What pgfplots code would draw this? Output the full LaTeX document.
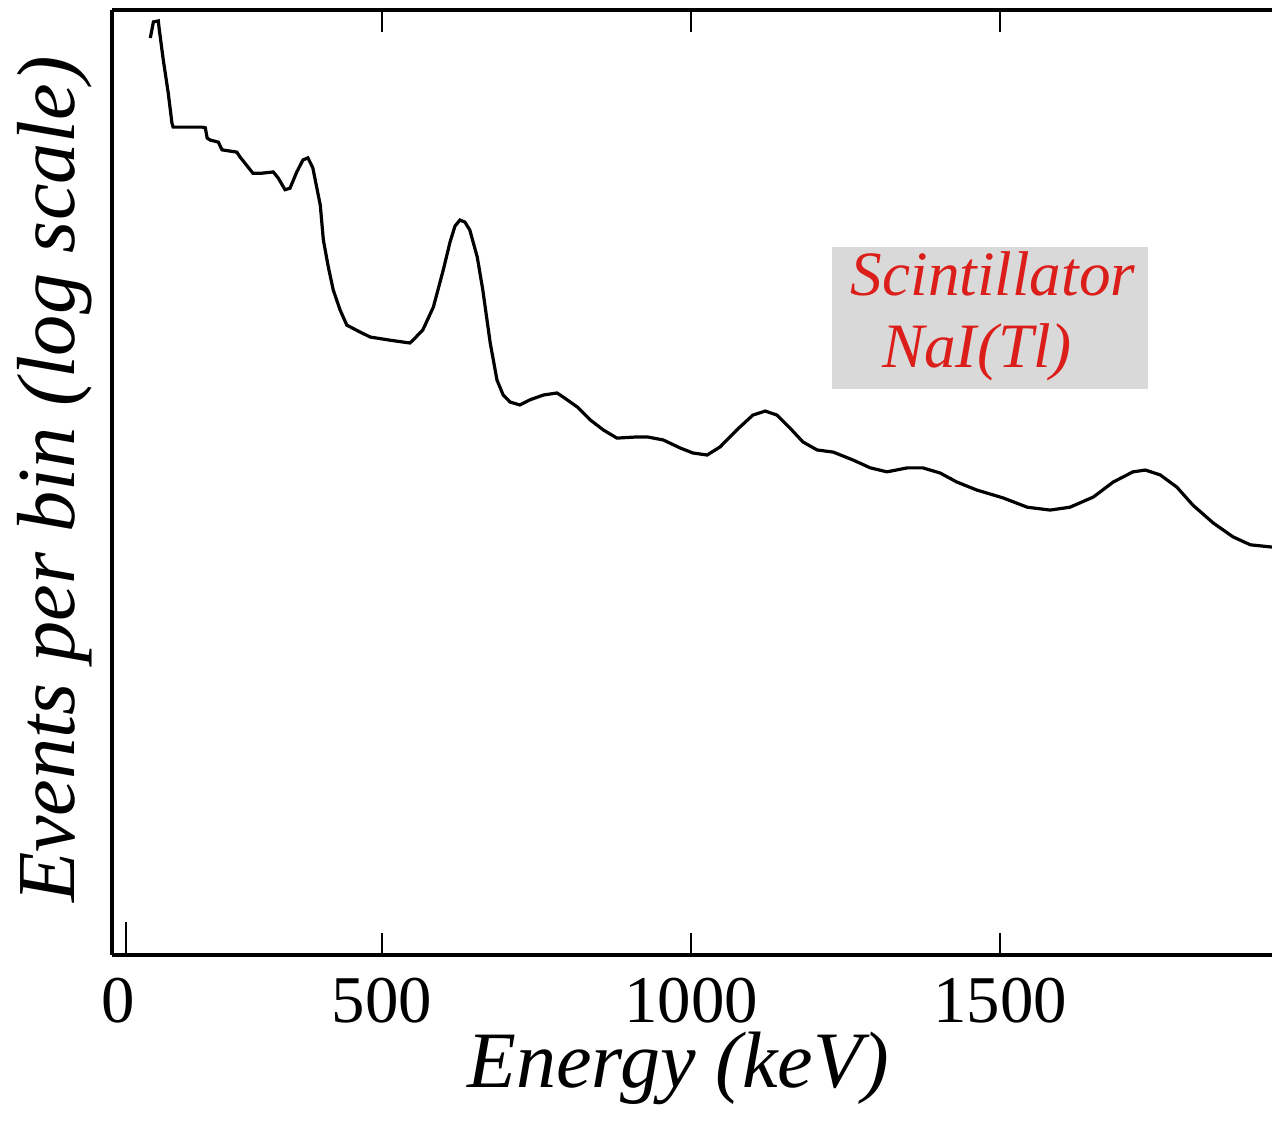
\documentclass[border=0pt]{standalone}
\usepackage{pgfplots}
\pgfplotsset{compat=1.18}
\usepackage{fontspec}
\setmainfont{Liberation Serif}

\definecolor{labelred}{RGB}{220,30,26}
\definecolor{boxgray}{RGB}{217,217,217}

% NaI(Tl) gamma spectrum: energy (keV) vs. counts per bin
\pgfplotstableread{
E     N
125   71100
130   86500
138   87500
139   81300
146   54300
154   36400
160   25200
162   24000
209   24000
214   23800
217   21000
222   20500
235   20000
241   18200
265   17700
270   16700
291   13700
306   13700
324   13900
332   12900
343   11200
351   11400
362   13900
372   16100
380   16500
388   14600
400   9290
405   6070
413   4370
421   3300
432   2590
443   2150
464   1980
481   1860
513   1790
545   1730
550   1790
566   2030
583   2680
599   4210
610   5920
618   7190
626   7740
634   7550
642   6850
654   4930
663   3300
675   1730
686   1100
696   918
707   843
723   813
739   865
761   918
783   941
793   896
816   793
837   677
858   600
880   543
913   551
929   551
955   531
982   482
1003  453
1026  442
1047  488
1074  600
1100  719
1120  755
1139  719
1160  614
1181  518
1204  470
1230  458
1262  416
1290  378
1317  360
1350  378
1375  378
1403  355
1430  318
1463  288
1505  262
1544  234
1581  226
1613  234
1651  265
1683  318
1715  360
1735  368
1759  347
1786  299
1812  240
1845  193
1877  163
1905  148
1940  144
}\spectrum

\begin{document}
\begin{tikzpicture}
\path[use as bounding box] (-28pt,-42pt) rectangle (290pt,238.75pt);
\begin{axis}[
  at={(0,0)}, anchor=south west,
  scale only axis,
  width=290pt, height=236.25pt,
  xmin=63, xmax=1940,
  ymode=log, ymin=1, ymax=1e5,
  axis x line=box, axis y line=left,
  axis line style={-, line width=1pt, black},
  xtick={500,1000,1500},
  xticklabels={500,1000,1500},
  extra x ticks={85},
  extra x tick labels={0},
  extra x tick style={major tick length=0pt, xticklabel style={xshift=-1.8pt}},
  ytick=\empty,
  major tick length=5.5pt,
  tick style={line width=0.5pt, black},
  tick align=inside,
  xticklabel style={font=\fontsize{16.7}{20}\selectfont, anchor=base, inner sep=0pt, yshift=-16.75pt},
  /pgf/number format/assume math mode=true,
  xlabel={\textit{Energy (keV)}},
  ylabel={\textit{Events per bin (log scale)}},
  xlabel style={font=\fontsize{20}{24}\selectfont, at={(axis description cs:0.488,0)}, anchor=base, inner sep=0pt, yshift=-33pt},
  ylabel style={font=\fontsize{20.6}{24}\selectfont, at={(axis description cs:0,0.503)}, yshift=1.5pt},
  clip=false,
]
\addplot[black, line width=0.8pt] table[x=E, y=N] {\spectrum};

% the zero tick sits on the lower edge only
\draw[line width=0.5pt, black] (axis cs:85,1) -- ([yshift=8.2pt]axis cs:85,1);

\fill[boxgray] (axis description cs:0.6207,0.599) rectangle (axis description cs:0.8931,0.749);
\node[anchor=base, text=labelred, font=\fontsize{15.8}{18}\selectfont\itshape, inner sep=0pt]
  at (axis description cs:0.7595,0.698) {Scintillator};
\node[anchor=base, text=labelred, font=\fontsize{15.8}{18}\selectfont\itshape, inner sep=0pt]
  at (axis description cs:0.7457,0.622) {NaI(Tl)};
\end{axis}
\end{tikzpicture}
\end{document}
